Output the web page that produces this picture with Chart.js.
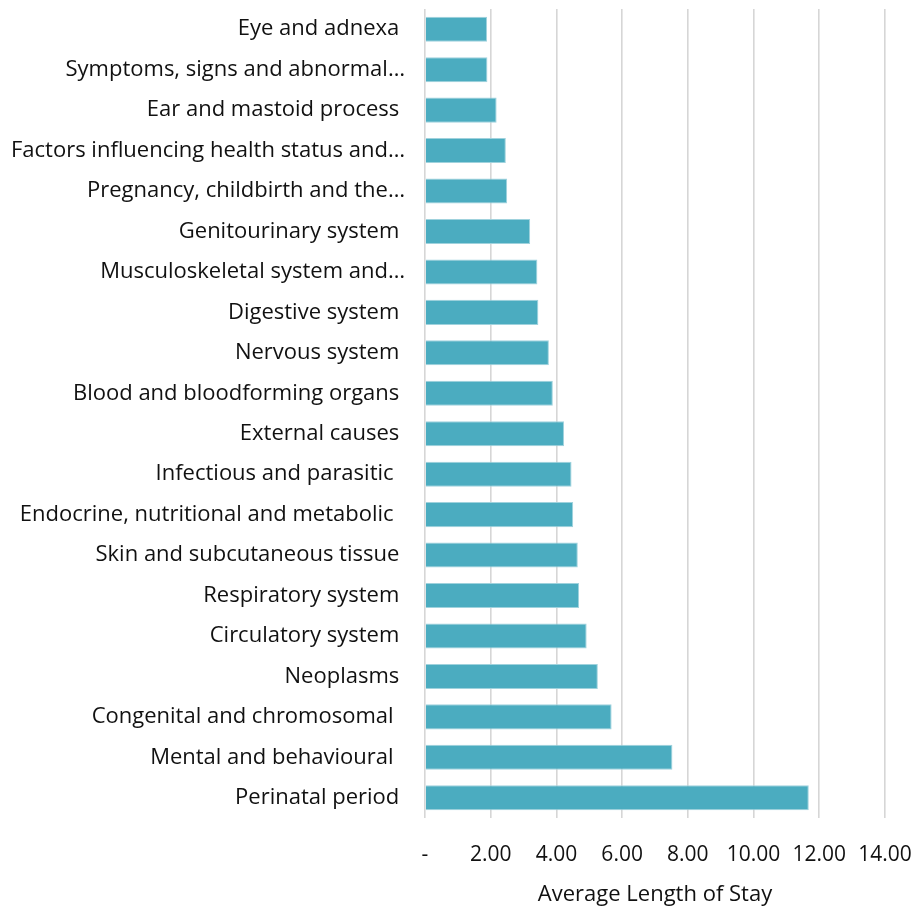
<!DOCTYPE html>
<html>
<head>
<meta charset="utf-8">
<script src="https://cdn.jsdelivr.net/npm/chart.js@4/dist/chart.umd.min.js"></script>
<style>
html,body{margin:0;padding:0;background:#fff;}
#wrap{width:915px;height:911px;position:relative;}
</style>
</head>
<body>
<div id="wrap"><canvas id="c"></canvas></div>
<script>
const categories = [
  "Eye and adnexa ",
  "Symptoms, signs and abnormal…",
  "Ear and mastoid process ",
  "Factors influencing health status and…",
  "Pregnancy, childbirth and the…",
  "Genitourinary system ",
  "Musculoskeletal system and…",
  "Digestive system ",
  "Nervous system ",
  "Blood and bloodforming organs ",
  "External causes ",
  "Infectious and parasitic  ",
  "Endocrine, nutritional and metabolic  ",
  "Skin and subcutaneous tissue ",
  "Respiratory system ",
  "Circulatory system ",
  "Neoplasms ",
  "Congenital and chromosomal  ",
  "Mental and behavioural  ",
  "Perinatal period "
];
const avgLengthOfStay = [1.89, 1.90, 2.18, 2.46, 2.50, 3.20, 3.42, 3.45, 3.77, 3.89,
  4.23, 4.46, 4.51, 4.65, 4.69, 4.92, 5.26, 5.68, 7.53, 11.68];
const xTickValues = [0, 2, 4, 6, 8, 10, 12, 14];
const xTickLabels = ["-", "2.00", "4.00", "6.00", "8.00", "10.00", "12.00", "14.00"];
const axisTitle = "Average Length of Stay";

const FONT = "'Open Sans', 'Noto Sans', sans-serif";

new Chart(document.getElementById('c'), {
  type: 'bar',
  data: {
    labels: categories,
    datasets: [{
      data: avgLengthOfStay,
      backgroundColor: '#4BACC0',
      borderColor: '#9fd2dd',
      borderWidth: 1,
      borderSkipped: 'left',
      categoryPercentage: 0.62,
      barPercentage: 1.0
    }]
  },
  options: {
    indexAxis: 'y',
    responsive: true,
    maintainAspectRatio: false,
    animation: false,
    layout: { padding: { left: 6, right: 30, top: 9, bottom: 0 } },
    plugins: { legend: { display: false }, tooltip: { enabled: false } },
    scales: {
      x: {
        min: 0, max: 14,
        afterBuildTicks: (s) => { s.ticks = xTickValues.map(v => ({ value: v })); },
        afterFit: (s) => { s.height = 93; s.paddingLeft = 0; s.paddingRight = 0; },
        ticks: {
          autoSkip: false,
          maxRotation: 0,
          padding: 24,
          color: '#111',
          font: { family: FONT, size: 21 },
          callback: (v, i) => xTickLabels[i]
        },
        grid: { color: '#d6d6d6', lineWidth: 1.6, drawTicks: false },
        border: { display: false },
        title: {
          display: true, text: axisTitle, color: '#111',
          font: { family: FONT, size: 22 }, padding: { top: 0, bottom: 3 }
        }
      },
      y: {
        afterFit: (s) => { s.width = 419; s.paddingTop = 0; s.paddingBottom = 0; },
        ticks: {
          padding: 20,
          color: '#111',
          font: { family: FONT, size: 22 }
        },
        grid: { display: false, drawTicks: false },
        border: { display: false }
      }
    }
  }
});
</script>
</body>
</html>
